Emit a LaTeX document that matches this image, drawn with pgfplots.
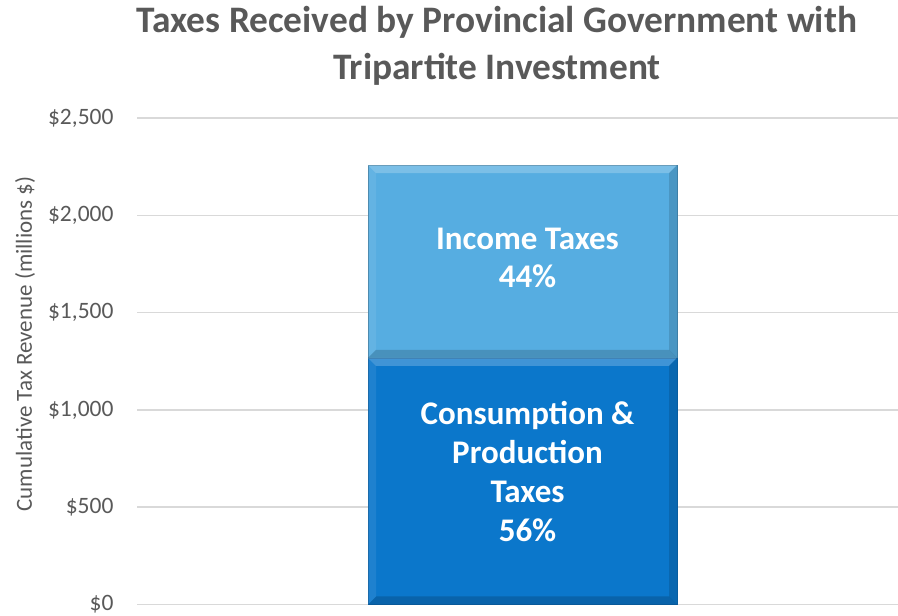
\documentclass[border=0pt]{standalone}
\usepackage{fontspec}
\setmainfont{Carlito}
\usepackage{pgfplots}
\pgfplotsset{compat=1.18}
\definecolor{titlegray}{HTML}{595959}
\definecolor{gridgray}{HTML}{D9D9D9}
\definecolor{incomeblue}{HTML}{56ADE1}
\definecolor{consblue}{HTML}{0B77CB}
% bevel overlay between named corners: #1 = south west, #2 = north east
\newcommand{\bevel}[2]{%
  \fill[white,opacity=0.22] (#1 |- #2) -- (#2) -- ([shift={(-8pt,-8pt)}]#2) -- ([shift={(8pt,-8pt)}]#1 |- #2) -- cycle;
  \fill[white,opacity=0.08] (#1 |- #2) -- ([shift={(8pt,-8pt)}]#1 |- #2) -- ([shift={(8pt,8pt)}]#1) -- (#1) -- cycle;
  \fill[black,opacity=0.13] (#2) -- ([shift={(-8pt,-8pt)}]#2) -- ([shift={(-8pt,8pt)}]#2 |- #1) -- (#2 |- #1) -- cycle;
  \fill[black,opacity=0.16] (#1) -- ([shift={(8pt,8pt)}]#1) -- ([shift={(-8pt,8pt)}]#2 |- #1) -- (#2 |- #1) -- cycle;
}
\begin{document}
\begin{tikzpicture}
\useasboundingbox (0,0) rectangle (898pt,616pt);
\node[anchor=base,font=\fontsize{37.4}{44}\selectfont\bfseries,text=titlegray] at (497pt,583pt) {Taxes Received by Provincial Government with};
\node[anchor=base,font=\fontsize{37.4}{44}\selectfont\bfseries,text=titlegray] at (497pt,536pt) {Tripartite Investment};
\node[rotate=90,font=\fontsize{23}{27}\selectfont,text=titlegray] at (25pt,272pt) {Cumulative Tax Revenue (millions \$)};
\begin{axis}[
  at={(137pt,11.5pt)}, anchor=south west,
  scale only axis, width=761pt, height=486.5pt,
  xmin=0, xmax=1, ymin=0, ymax=2500,
  ybar stacked, bar width=0.406,
  axis line style={draw=none},
  xtick=\empty,
  ytick={0,500,1000,1500,2000,2500},
  ymajorgrids, grid style={gridgray, line width=1.5pt},
  major tick length=0pt,
  /pgf/number format/assume math mode=true,
  /pgf/number format/1000 sep={,},
  yticklabel={\$\pgfmathprintnumber{\tick}},
  yticklabel style={font=\fontsize{23.5}{27}\selectfont, text=titlegray, anchor=east, xshift=-20pt},
  clip=false,
]
\addplot[fill=consblue, draw=consblue!80!black, line width=0.6pt] coordinates {(0.5066,1267)};
\addplot[fill=incomeblue, draw=incomeblue!75!black, line width=0.6pt] coordinates {(0.5066,991)};
\coordinate (c1) at (axis cs:0.3036,0);
\coordinate (c2) at (axis cs:0.7096,1267);
\coordinate (c3) at (axis cs:0.3036,1267);
\coordinate (c4) at (axis cs:0.7096,2258);
\coordinate (l1) at (axis cs:0.5066,1780);
\coordinate (l2) at (axis cs:0.5066,681);
\end{axis}
\bevel{c1}{c2}
\bevel{c3}{c4}
\node[align=center,text=white,font=\fontsize{33}{38.5}\selectfont\bfseries,xshift=5pt] at (l1) {Income Taxes\\44\%};
\node[align=center,text=white,font=\fontsize{33}{39}\selectfont\bfseries,xshift=5pt] at (l2) {Consumption \&\\Production\\Taxes\\56\%};
\end{tikzpicture}
\end{document}
